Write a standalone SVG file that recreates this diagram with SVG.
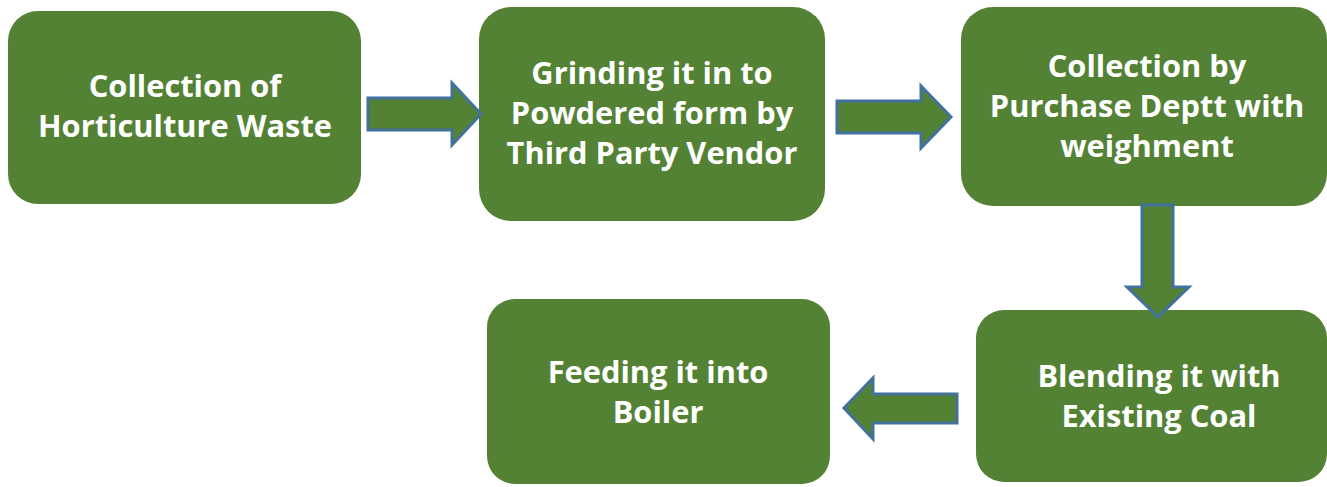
<svg xmlns="http://www.w3.org/2000/svg" width="1327" height="487" viewBox="0 0 1327 487">
<style>
.box{fill:#548235;}
.arr{fill:#548235;stroke:#41719C;stroke-width:3;stroke-linejoin:miter;}
.t{fill:#FFFFFF;font-family:"Open Sans","Liberation Sans",sans-serif;font-weight:bold;font-size:30.8px;text-anchor:middle;}
</style>
<rect width="1327" height="487" fill="#FFFFFF"/>
<g id="n1"><rect class="box" x="8" y="11" width="353" height="193" rx="30"/>
<text class="t" x="185" y="97">Collection of</text><text class="t" x="185" y="137">Horticulture Waste</text></g>
<g id="n2"><rect class="box" x="479" y="7" width="346" height="214" rx="32"/>
<text class="t" x="652" y="84">Grinding it in to</text><text class="t" x="652" y="124">Powdered form by</text><text class="t" x="652" y="164">Third Party Vendor</text></g>
<g id="n3"><rect class="box" x="961" y="7" width="366" height="199" rx="32"/>
<text class="t" x="1147" y="77">Collection by</text><text class="t" x="1147" y="117">Purchase Deptt with</text><text class="t" x="1147" y="157">weighment</text></g>
<g id="n4"><rect class="box" x="976" y="310" width="351" height="172" rx="28"/>
<text class="t" x="1159" y="387">Blending it with</text><text class="t" x="1159" y="427">Existing Coal</text></g>
<g id="n5"><rect class="box" x="487" y="299" width="343" height="185" rx="28"/>
<text class="t" x="658" y="383">Feeding it into</text><text class="t" x="658" y="423">Boiler</text></g>
<g id="connectors">
<polygon class="arr" points="368,98 452,98 452,83 481,114 452,145 452,130 368,130"/>
<polygon class="arr" points="837,101 921,101 921,86 951,117 921,148 921,133 837,133"/>
<polygon class="arr" points="1142,205 1173,205 1173,287 1189,287 1158,317 1127,287 1142,287"/>
<polygon class="arr" points="957,394 873,394 873,378 844,408 873,439 873,423 957,423"/>
</g>
</svg>
